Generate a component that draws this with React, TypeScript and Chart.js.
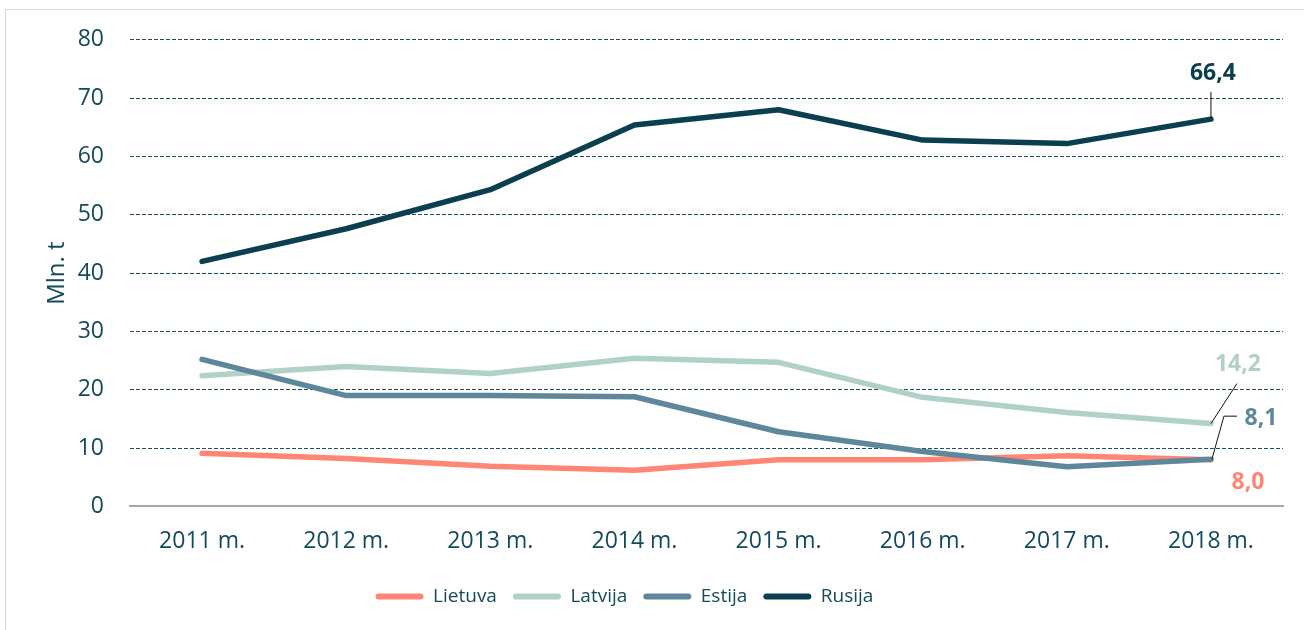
import React, { useEffect, useRef } from "react";
import { Chart, registerables } from "chart.js";

Chart.register(...registerables);

const categories = ["2011 m.", "2012 m.", "2013 m.", "2014 m.", "2015 m.", "2016 m.", "2017 m.", "2018 m."];
const lietuva = [9.1, 8.2, 6.9, 6.2, 8.0, 8.0, 8.7, 8.0];
const latvija = [22.4, 24.0, 22.8, 25.4, 24.7, 18.7, 16.1, 14.2];
const estija = [25.2, 19.0, 19.0, 18.8, 12.8, 9.4, 6.8, 8.1];
const rusija = [42.0, 47.6, 54.3, 65.4, 68.0, 62.8, 62.2, 66.4];
const seriesNames = ["Lietuva", "Latvija", "Estija", "Rusija"];
const endLabels = ["8,0", "14,2", "8,1", "66,4"];

const COLORS = ["#FF8674", "#B1D1C8", "#5E879C", "#0B3F50"];
const TEXT = "#134A5C";
const FONT = "'Open Sans', 'Noto Sans', sans-serif";

// label placement (pixel offsets from the last point of each series)
const labelStyle = [
  { dx: 37, dy: 23, line: null as null | number[][] },
  { dx: 27, dy: -59, line: [[0, 0], [26, -40]] },
  { dx: 50, dy: -41, line: [[1, 0], [13, -43], [26, -43]] },
  { dx: 2, dy: -46, line: [[0, -1], [0, -27]] },
];

const endLabelPlugin = {
  id: "endLabels",
  afterLayout(chart: any) {
    if (chart.legend) {
      chart.legend.left -= 36;
      chart.legend.right -= 36;
    }
  },
  afterDatasetsDraw(chart: any) {
    const ctx = chart.ctx;
    ctx.save();
    chart.data.datasets.forEach((ds: any, i: number) => {
      const meta = chart.getDatasetMeta(i);
      const pt = meta.data[meta.data.length - 1];
      if (!pt) return;
      const st = labelStyle[i];
      if (st.line) {
        ctx.beginPath();
        ctx.strokeStyle = "#111";
        ctx.lineWidth = 1;
        st.line.forEach((p, k) => {
          if (k === 0) ctx.moveTo(pt.x + p[0], pt.y + p[1]);
          else ctx.lineTo(pt.x + p[0], pt.y + p[1]);
        });
        ctx.stroke();
      }
      ctx.fillStyle = COLORS[i];
      ctx.font = `bold 23px ${FONT}`;
      ctx.textAlign = "center";
      ctx.textBaseline = "middle";
      ctx.fillText(endLabels[i], pt.x + st.dx, pt.y + st.dy);
    });
    ctx.restore();
  },
};

export default function App() {
  const ref = useRef<HTMLCanvasElement | null>(null);
  useEffect(() => {
    if (!ref.current) return;
    const values = [lietuva, latvija, estija, rusija];
    const chart = new Chart(ref.current, {
      type: "line",
      data: {
        labels: categories,
        datasets: values.map((v, i) => ({
          label: seriesNames[i],
          data: v,
          borderColor: COLORS[i],
          backgroundColor: COLORS[i],
          borderWidth: 5.5,
          borderCapStyle: "round" as const,
          borderJoinStyle: "round" as const,
          pointRadius: 0,
          tension: 0,
          order: 4 - i,
        })),
      },
      options: {
        animation: false,
        responsive: false,
        layout: { padding: { left: 38, right: 21, top: 24, bottom: 14 } },
        scales: {
          x: {
            offset: true,
            afterFit: (s: any) => {
              s.height -= 5;
            },
            grid: { display: false, drawTicks: false },
            border: { display: true, color: "#A6A6A6", width: 2 },
            ticks: { color: TEXT, font: { family: FONT, size: 23 }, padding: 21 },
          },
          y: {
            min: 0,
            max: 80,
            afterFit: (s: any) => {
              s.width = 92;
            },
            ticks: { stepSize: 10, color: TEXT, font: { family: FONT, size: 23 }, padding: 26 },
            grid: {
              drawTicks: false,
              color: (c: any) => (c.tick && c.tick.value === 0 ? "rgba(0,0,0,0)" : "#1F4F60"),
              lineWidth: 1,
            },
            border: { display: false, dash: [4, 2] },
            title: { display: true, text: "Mln. t", color: TEXT, font: { family: FONT, size: 24 }, padding: 5 },
          },
        },
        plugins: {
          tooltip: { enabled: false },
          legend: {
            position: "bottom",
            labels: {
              color: TEXT,
              font: { family: FONT, size: 19 },
              boxWidth: 48,
              boxHeight: 6,
              useBorderRadius: true,
              borderRadius: 3,
              padding: 16,
              sort: (a: any, b: any) => a.datasetIndex - b.datasetIndex,
              generateLabels: (ch: any) =>
                Chart.defaults.plugins.legend.labels.generateLabels(ch).map((l: any) => ({
                  ...l,
                  fillStyle: COLORS[l.datasetIndex],
                  strokeStyle: COLORS[l.datasetIndex],
                  lineWidth: 0,
                })),
            },
          },
        },
      } as any,
      plugins: [endLabelPlugin],
    });
    return () => chart.destroy();
  }, []);

  return (
    <div style={{ position: "fixed", left: 0, top: 0, width: 1304, height: 630, background: "#fff" }}>
      <div
        style={{
          position: "absolute",
          left: 5,
          top: 9,
          width: 1310,
          height: 630,
          borderLeft: "1px solid #D9D9D9",
          borderTop: "1px solid #D9D9D9",
        }}
      />
      <canvas ref={ref} width={1304} height={630} style={{ position: "absolute", left: 0, top: 0 }} />
    </div>
  );
}
